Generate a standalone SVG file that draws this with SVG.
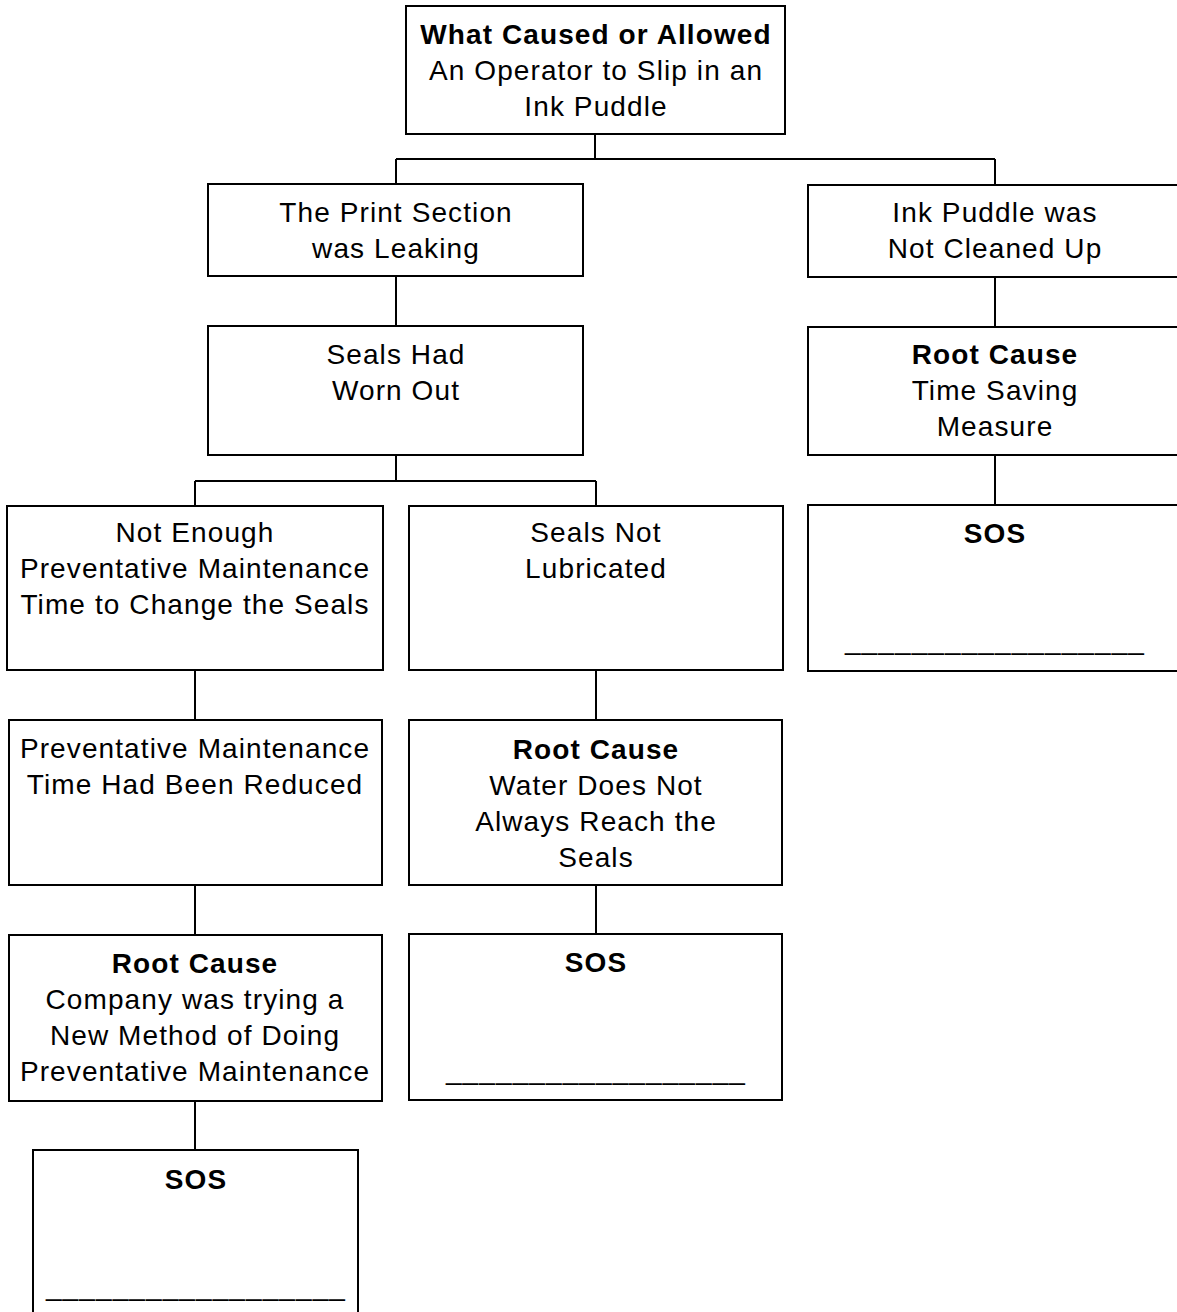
<svg xmlns="http://www.w3.org/2000/svg" width="1177" height="1312" viewBox="0 0 1177 1312">
<style>
.box{fill:#fff;stroke:#000;stroke-width:2}
.con{fill:none;stroke:#000;stroke-width:2}
text{font-family:"Liberation Sans",Arial,sans-serif;font-size:28px;letter-spacing:1.1px;text-anchor:middle;fill:#000}
.b{font-weight:bold}
</style>
<rect width="1177" height="1312" fill="#fff"/>
<g id="connectors">
<path class="con" d="M595,134V159M396,159H995M396,159V184M995,159V185"/>
<path class="con" d="M396,276V326"/>
<path class="con" d="M995,277V327"/>
<path class="con" d="M995,455V505"/>
<path class="con" d="M396,455V481M195,481H596M195,481V506M596,481V506"/>
<path class="con" d="M195,670V720M596,670V720"/>
<path class="con" d="M195,885V935M596,885V934"/>
<path class="con" d="M195,1101V1150"/>
</g>
<g id="n-top">
<rect class="box" x="406" y="6" width="379" height="128"/>
<text x="596" y="44" class="b">What Caused or Allowed</text>
<text x="596" y="80">An Operator to Slip in an</text>
<text x="596" y="116">Ink Puddle</text>
</g>
<g id="n-print">
<rect class="box" x="208" y="184" width="375" height="92"/>
<text x="396" y="222">The Print Section</text>
<text x="396" y="258">was Leaking</text>
</g>
<g id="n-puddle">
<rect class="box" x="808" y="185" width="374" height="92"/>
<text x="995" y="222">Ink Puddle was</text>
<text x="995" y="258">Not Cleaned Up</text>
</g>
<g id="n-seals">
<rect class="box" x="208" y="326" width="375" height="129"/>
<text x="396" y="364">Seals Had</text>
<text x="396" y="400">Worn Out</text>
</g>
<g id="n-rc-right">
<rect class="box" x="808" y="327" width="374" height="128"/>
<text x="995" y="364" class="b">Root Cause</text>
<text x="995" y="400">Time Saving</text>
<text x="995" y="436">Measure</text>
</g>
<g id="n-notenough">
<rect class="box" x="7" y="506" width="376" height="164"/>
<text x="195" y="542">Not Enough</text>
<text x="195" y="578">Preventative Maintenance</text>
<text x="195" y="614">Time to Change the Seals</text>
</g>
<g id="n-lubricated">
<rect class="box" x="409" y="506" width="374" height="164"/>
<text x="596" y="542">Seals Not</text>
<text x="596" y="578">Lubricated</text>
</g>
<g id="n-sos-right">
<rect class="box" x="808" y="505" width="374" height="166"/>
<text x="995" y="543" class="b">SOS</text>
<text x="995" y="649">__________________</text>
</g>
<g id="n-reduced">
<rect class="box" x="9" y="720" width="373" height="165"/>
<text x="195" y="758">Preventative Maintenance</text>
<text x="195" y="794">Time Had Been Reduced</text>
</g>
<g id="n-rc-middle">
<rect class="box" x="409" y="720" width="373" height="165"/>
<text x="596" y="759" class="b">Root Cause</text>
<text x="596" y="795">Water Does Not</text>
<text x="596" y="831">Always Reach the</text>
<text x="596" y="867">Seals</text>
</g>
<g id="n-rc-left">
<rect class="box" x="9" y="935" width="373" height="166"/>
<text x="195" y="973" class="b">Root Cause</text>
<text x="195" y="1009">Company was trying a</text>
<text x="195" y="1045">New Method of Doing</text>
<text x="195" y="1081">Preventative Maintenance</text>
</g>
<g id="n-sos-middle">
<rect class="box" x="409" y="934" width="373" height="166"/>
<text x="596" y="972" class="b">SOS</text>
<text x="596" y="1079">__________________</text>
</g>
<g id="n-sos-left">
<rect class="box" x="33" y="1150" width="325" height="180"/>
<text x="196" y="1189" class="b">SOS</text>
<text x="196" y="1295">__________________</text>
</g>
</svg>
